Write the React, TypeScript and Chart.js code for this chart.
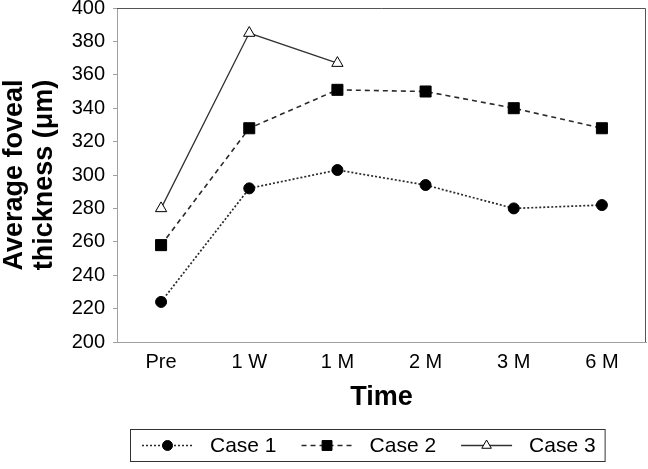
import React, { useEffect, useRef } from 'react';
import { Chart, registerables } from 'chart.js';

Chart.register(...registerables);

const categories = ['Pre', '1 W', '1 M', '2 M', '3 M', '6 M'];
const case1 = [224, 292, 303, 294, 280, 282];
const case2 = [258, 328, 351, 350, 340, 328];
const case3 = [280, 385, 367, null, null, null];
const seriesNames = ['Case 1', 'Case 2', 'Case 3'];
const yMin = 200;
const yMax = 400;
const yStep = 20;
const xTitle = 'Time';
const yTitle = ['Average foveal', 'thickness (μm)'];

const FONT = '"Liberation Sans", Arial, Helvetica, sans-serif';
const AXIS_GRAY = '#a0a0a0';

const framePlugin = {
  id: 'frameTopRight',
  beforeDatasetsDraw(chart: any) {
    const { ctx, chartArea } = chart;
    const { left, right, top, bottom } = chartArea;
    ctx.save();
    ctx.strokeStyle = '#555555';
    ctx.lineWidth = 1;
    ctx.beginPath();
    ctx.moveTo(left, Math.round(top) + 0.5);
    ctx.lineTo(Math.round(right) - 0.5, Math.round(top) + 0.5);
    ctx.lineTo(Math.round(right) - 0.5, bottom);
    ctx.stroke();
    ctx.restore();
  },
};

function drawMarker(ctx: CanvasRenderingContext2D, style: string, x: number, y: number, r: number, fill: string, stroke: string) {
  ctx.save();
  ctx.setLineDash([]);
  ctx.fillStyle = fill;
  ctx.strokeStyle = stroke;
  ctx.lineWidth = 1;
  ctx.beginPath();
  if (style === 'circle') {
    ctx.arc(x, y, r, 0, Math.PI * 2);
  } else if (style === 'rect') {
    const s = r * Math.SQRT1_2;
    ctx.rect(x - s, y - s, 2 * s, 2 * s);
  } else {
    ctx.moveTo(x, y - r);
    ctx.lineTo(x + r * Math.sin((2 * Math.PI) / 3), y - r * Math.cos((2 * Math.PI) / 3));
    ctx.lineTo(x + r * Math.sin((4 * Math.PI) / 3), y - r * Math.cos((4 * Math.PI) / 3));
    ctx.closePath();
  }
  ctx.fill();
  ctx.stroke();
  ctx.restore();
}

const boxLegendPlugin = {
  id: 'boxLegend',
  afterDraw(chart: any) {
    const ctx: CanvasRenderingContext2D = chart.ctx;
    const datasets = chart.data.datasets;
    ctx.save();
    ctx.font = `21px ${FONT}`;
    const boxLeft = 130;
    const boxTop = 429;
    const boxH = 32;
    const cy = boxTop + boxH / 2 + 0.5;
    const sampleLen = 51;
    const gapText = 17;
    const gapItem = 25;
    let x = 142;
    datasets.forEach((ds: any, i: number) => {
      ctx.save();
      ctx.strokeStyle = ds.borderColor;
      ctx.lineWidth = ds.borderWidth;
      ctx.setLineDash(ds.borderDash || []);
      ctx.beginPath();
      ctx.moveTo(x, cy);
      ctx.lineTo(x + sampleLen, cy);
      ctx.stroke();
      ctx.restore();
      const legendR = ds.pointStyle === 'rect' ? 7 : ds.pointStyle === 'circle' ? 5 : 5.5;
      drawMarker(ctx, ds.pointStyle, x + sampleLen / 2, cy, legendR, ds.pointBackgroundColor, ds.pointBorderColor);
      x += sampleLen + gapText;
      ctx.fillStyle = '#000';
      ctx.textBaseline = 'middle';
      ctx.textAlign = 'left';
      ctx.fillText(ds.label, x, cy + 1);
      x += ctx.measureText(ds.label).width;
      if (i < datasets.length - 1) x += gapItem;
    });
    const boxRight = x + 9;
    ctx.strokeStyle = '#333';
    ctx.lineWidth = 1;
    ctx.setLineDash([]);
    ctx.strokeRect(boxLeft + 0.5, boxTop + 0.5, boxRight - boxLeft, boxH);
    ctx.restore();
  },
};

export default function App() {
  const canvasRef = useRef<HTMLCanvasElement | null>(null);

  useEffect(() => {
    const canvas = canvasRef.current;
    if (!canvas) return;
    const chart = new Chart(canvas, {
      type: 'line',
      data: {
        labels: categories,
        datasets: [
          {
            label: seriesNames[0],
            data: case1,
            borderColor: '#2a2a2a',
            borderWidth: 1.7,
            borderDash: [2, 2],
            pointStyle: 'circle',
            pointRadius: 5.5,
            pointBackgroundColor: '#000000',
            pointBorderColor: '#000000',
            pointBorderWidth: 1,
            fill: false,
            tension: 0,
          },
          {
            label: seriesNames[1],
            data: case2,
            borderColor: '#2a2a2a',
            borderWidth: 1.6,
            borderDash: [5, 4],
            pointStyle: 'rect',
            pointRadius: 7.8,
            pointBackgroundColor: '#000000',
            pointBorderColor: '#000000',
            pointBorderWidth: 1,
            fill: false,
            tension: 0,
          },
          {
            label: seriesNames[2],
            data: case3,
            borderColor: '#333333',
            borderWidth: 1.3,
            borderDash: [],
            pointStyle: 'triangle',
            pointRadius: 6.5,
            pointBackgroundColor: '#ffffff',
            pointBorderColor: '#000000',
            pointBorderWidth: 1,
            fill: false,
            tension: 0,
            spanGaps: false,
          },
        ] as any,
      },
      options: {
        responsive: false,
        animation: false,
        layout: { autoPadding: false, padding: { top: 8, right: 2, bottom: 59, left: 0 } },
        plugins: {
          legend: { display: false },
          tooltip: { enabled: false },
        },
        scales: {
          x: {
            type: 'category',
            offset: true,
            grid: { display: false, drawTicks: false },
            border: { display: true, color: AXIS_GRAY, width: 1 },
            ticks: {
              color: '#000',
              font: { family: FONT, size: 20 },
              padding: 8,
              maxRotation: 0,
              autoSkip: false,
            },
            title: {
              display: true,
              text: xTitle,
              color: '#000',
              font: { family: FONT, size: 27, weight: 'bold', lineHeight: 1.1 },
              padding: { top: 0, bottom: -2 },
            },
            afterFit: (s: any) => {
              s.height = 68;
              s.paddingLeft = 0;
              s.paddingRight = 0;
            },
          },
          y: {
            min: yMin,
            max: yMax,
            ticks: {
              stepSize: yStep,
              color: '#000',
              font: { family: FONT, size: 20 },
              padding: 8,
            },
            grid: {
              drawOnChartArea: false,
              drawTicks: true,
              tickLength: 4,
              color: AXIS_GRAY,
            },
            border: { display: true, color: AXIS_GRAY, width: 1 },
            title: {
              display: true,
              text: yTitle,
              color: '#000',
              font: { family: FONT, size: 27, weight: 'bold', lineHeight: 1.1 },
              padding: { top: 0, bottom: 0 },
            },
            afterFit: (s: any) => {
              s.width = 117;
              s.paddingTop = 0;
              s.paddingBottom = 0;
            },
          },
        },
      } as any,
      plugins: [framePlugin, boxLegendPlugin],
    });
    return () => chart.destroy();
  }, []);

  return (
    <div style={{ position: 'fixed', left: 0, top: 0, width: 648, height: 469, background: '#fff' }}>
      <canvas ref={canvasRef} width={648} height={469} style={{ width: 648, height: 469, display: 'block' }} />
    </div>
  );
}
